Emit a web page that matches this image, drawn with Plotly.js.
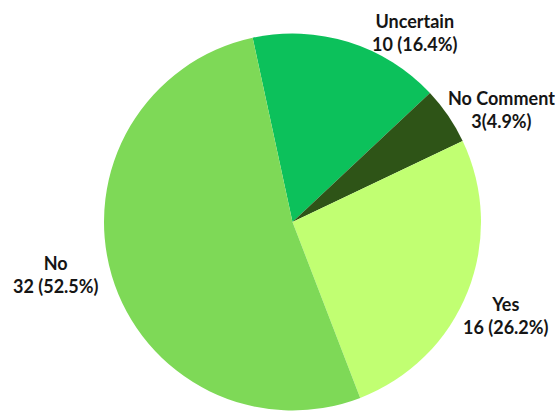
<!DOCTYPE html>
<html>
<head>
<meta charset="utf-8">
<script src="https://cdn.plot.ly/plotly-3.0.1.min.js"></script>
<style>html,body{margin:0;padding:0;background:#fff;}#chart{width:555px;height:412px;}</style>
</head>
<body>
<div id="chart"></div>
<script>
const categories = ["Uncertain", "No Comment", "Yes", "No"];
const values = [10, 3, 16, 32];
const colors = ["#0cc15b", "#2e5417", "#c1ff72", "#7ed957"];
const separators = [" ", "", " ", " "];
// label centre positions in pixels (layout only)
const labelPos = [[415, 33], [501, 109], [506, 315], [56, 274]];

const total = values.reduce((a, b) => a + b, 0);
const W = 555, H = 412;

const annotations = categories.map((c, i) => ({
  xref: "paper", yref: "paper",
  x: labelPos[i][0] / W, y: 1 - labelPos[i][1] / H,
  xanchor: "center", yanchor: "middle",
  text: c + "<br>" + values[i] + separators[i] + "(" + (values[i] / total * 100).toFixed(1) + "%)",
  showarrow: false,
  align: "center",
  font: {family: "Lato, 'Open Sans', sans-serif", size: 18, weight: "bold", color: "#151515"}
}));

Plotly.newPlot("chart", [{
  type: "pie",
  labels: categories,
  values: values,
  sort: false,
  direction: "clockwise",
  rotation: -12.2,
  marker: {colors: colors, line: {width: 0}},
  textinfo: "none",
  hoverinfo: "none",
  domain: {x: [104 / W, 481 / W], y: [1 / H, 379 / H]}
}], {
  width: W, height: H,
  margin: {l: 0, r: 0, t: 0, b: 0},
  paper_bgcolor: "#fff",
  showlegend: false,
  annotations: annotations
}, {displayModeBar: false, staticPlot: true});
</script>
</body>
</html>
